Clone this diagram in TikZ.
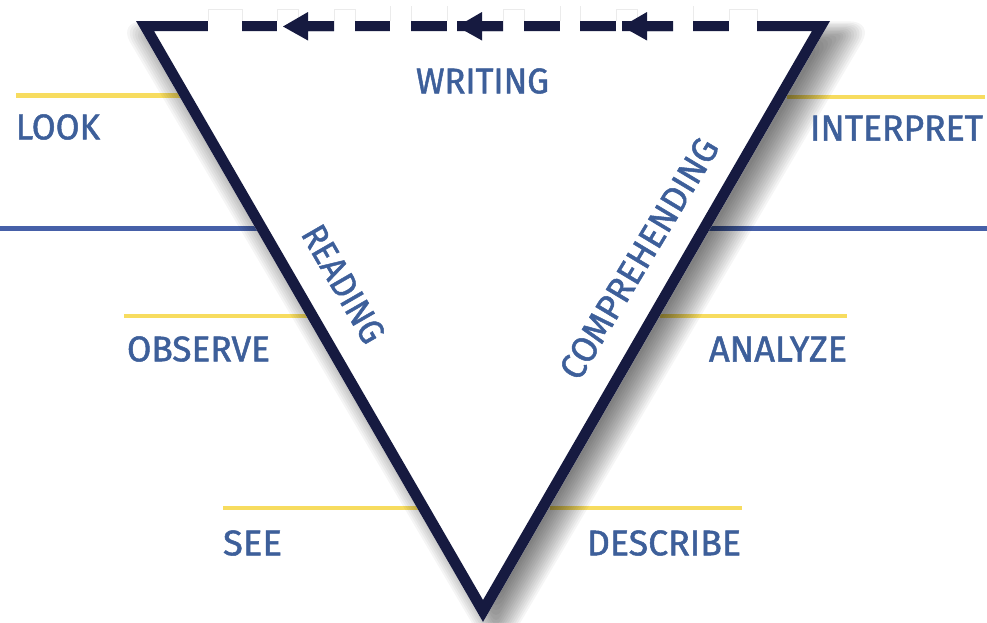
\documentclass[tikz,border=0pt]{standalone}
\usepackage{fontspec}
\usepackage{graphicx}
\setmainfont{Fira Sans}[FakeBold=1.4]
\definecolor{navy}{HTML}{161A40}
\definecolor{lab}{HTML}{3D5F9A}
\definecolor{yel}{HTML}{F7DC5F}
\definecolor{blu}{HTML}{4660A8}
\newcommand{\fitlab}[3]{\resizebox{#1pt}{#2pt}{#3}}
\tikzset{
  lab/.style={text=lab,inner sep=0pt},
  yline/.style={draw=yel,line width=4.5pt},
  bline/.style={draw=blu,line width=5.5pt},
  gapbox/.style={fill=white,draw=none},
  gapedge/.style={draw=black!8,line width=0.5pt},
  head/.style={fill=navy,draw=none}
}
\begin{document}
\begin{tikzpicture}[x=1pt,y=-1pt]
\useasboundingbox (0,0) rectangle (987,622);
\fill[white] (0,0) rectangle (987,622);
% rule lines
\coordinate (y1a) at (16,95.5);\coordinate (y1b) at (180,95.5);
\coordinate (y2a) at (124,316);\coordinate (y2b) at (308,316);
\coordinate (y3a) at (223,508);\coordinate (y3b) at (418,508);
\coordinate (y4a) at (787,97);\coordinate (y4b) at (985,97);
\coordinate (y5a) at (660,316);\coordinate (y5b) at (847,316);
\coordinate (y6a) at (550,508);\coordinate (y6b) at (742,508);
\coordinate (b1a) at (0,228.5);\coordinate (b1b) at (258,228.5);
\coordinate (b2a) at (707,228.5);\coordinate (b2b) at (987,228.5);
\draw[yline] (y1a)--(y1b);\draw[yline] (y2a)--(y2b);\draw[yline] (y3a)--(y3b);
\draw[yline] (y4a)--(y4b);\draw[yline] (y5a)--(y5b);\draw[yline] (y6a)--(y6b);
\draw[bline] (b1a)--(b1b);\draw[bline] (b2a)--(b2b);
% shadow
\foreach \d in {-12,-10,-8,-6,-4,-2,0,2,4,6,8,10,12,14,16,18}{
  \pgfmathsetmacro{\dx}{1.732*\d}
  \pgfmathsetmacro{\rc}{abs(\d)+6}
  \fill[black,opacity=0.04,rounded corners=\rc pt]
    (149-\dx,34-0.7*\d) -- (843+\dx,34-0.7*\d) -- (496,628+2*\d) -- cycle;
}
% triangle
\fill[white] (136,21) -- (830,21) -- (483,622) -- cycle;
\fill[navy,even odd rule] (136,21) -- (830,21) -- (483,622) -- cycle
  (154,31) -- (812,31) -- (483,600) -- cycle;
% gaps in the top edge
\foreach \a/\b in {208/242,277/298,334/355,390/411,447/457,503/524,560/580,616/622,673/693,729/757}{
  \fill[gapbox] (\a,8) rectangle (\b,32);
}
\foreach \a/\b in {208/242,277/298,334/355,503/524,616/637,729/757}{
  \draw[gapedge] (\a,21) -- (\a,9.5) -- (\b,9.5) -- (\b,21);
}
\foreach \a in {390,411,447,560,580,693}{
  \draw[gapedge] (\a,21) -- (\a,6);
}
% arrows
\foreach \t/\s in {283/334,457/503,622/673}{
  \fill[head] (\t,26.5) -- (\t+25,12) -- (\t+25,21) -- (\s,21) -- (\s,31) -- (\t+25,31) -- (\t+25,40.5) -- cycle;
}
% labels
\node[lab] (writing) at (482.5,81) {\fitlab{133}{25}{WRITING}};
\node[lab] (look) at (58,127) {\fitlab{84}{25}{LOOK}};
\node[lab] (interpret) at (896.5,128) {\fitlab{173}{25}{INTERPRET}};
\node[lab] (observe) at (198.5,349) {\fitlab{143}{25}{OBSERVE}};
\node[lab] (analyze) at (778,349) {\fitlab{138}{25}{ANALYZE}};
\node[lab] (see) at (252.5,543) {\fitlab{59}{25}{SEE}};
\node[lab] (describe) at (664,543) {\fitlab{154}{25}{DESCRIBE}};
\node[lab,rotate=-60] (reading) at (343.5,284) {\fitlab{130}{25}{READING}};
\node[lab,rotate=59] (comprehending) at (639,258.5) {\fitlab{274}{25}{COMPREHENDING}};
\end{tikzpicture}
\end{document}
